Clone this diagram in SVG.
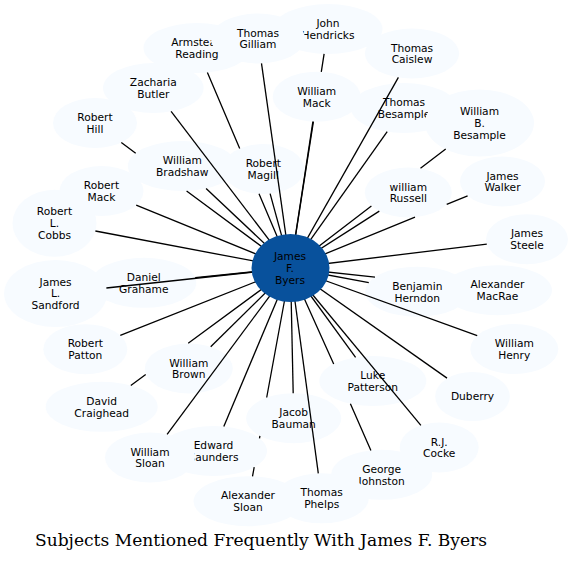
<svg xmlns="http://www.w3.org/2000/svg" width="573" height="563" viewBox="0 0 573 563">
<style>
.n{fill:#f7fbff;stroke:none}
.hub{fill:#08519c;stroke:none}
.t{font-family:"DejaVu Sans","Noto Sans",sans-serif;font-size:10.67px;fill:#000;text-anchor:middle}
.e{fill:none;stroke:#000;stroke-width:1.3}
.title{font-family:"DejaVu Serif","Liberation Serif",serif;font-size:17.1px;fill:#000;text-anchor:middle}
</style>
<rect width="573" height="563" fill="#fff"/>
<g id="nodes">
<g id="armstead-reading"><ellipse class="n" cx="197" cy="48" rx="53.5" ry="25"/><text class="t"><tspan x="197" y="46">Armstead</tspan><tspan x="197" y="57.8">Reading</tspan></text></g>
<g id="john-hendricks"><ellipse class="n" cx="328" cy="29" rx="54.5" ry="25"/><text class="t"><tspan x="328" y="27">John</tspan><tspan x="328" y="38.8">Hendricks</tspan></text></g>
<g id="thomas-gilliam"><ellipse class="n" cx="258" cy="38.5" rx="47" ry="25"/><text class="t"><tspan x="258" y="36.5">Thomas</tspan><tspan x="258" y="48.3">Gilliam</tspan></text></g>
<g id="thomas-caislew"><ellipse class="n" cx="412" cy="53.5" rx="47" ry="25"/><text class="t"><tspan x="412" y="51.5">Thomas</tspan><tspan x="412" y="63.3">Caislew</tspan></text></g>
<g id="william-mack"><ellipse class="n" cx="316.7" cy="96.7" rx="44" ry="25"/><text class="t"><tspan x="316.7" y="94.7">William</tspan><tspan x="316.7" y="106.5">Mack</tspan></text></g>
<g id="thomas-besample"><ellipse class="n" cx="404" cy="108" rx="53" ry="25"/><text class="t"><tspan x="404" y="106">Thomas</tspan><tspan x="404" y="117.8">Besample</tspan></text></g>
<g id="william-b-besample"><ellipse class="n" cx="479.5" cy="123" rx="54.5" ry="33.5"/><text class="t"><tspan x="479.5" y="115.1">William</tspan><tspan x="479.5" y="126.9">B.</tspan><tspan x="479.5" y="138.7">Besample</tspan></text></g>
<g id="zacharia-butler"><ellipse class="n" cx="153.3" cy="88" rx="50.3" ry="25"/><text class="t"><tspan x="153.3" y="86">Zacharia</tspan><tspan x="153.3" y="97.8">Butler</tspan></text></g>
<g id="robert-hill"><ellipse class="n" cx="95" cy="123" rx="42" ry="25"/><text class="t"><tspan x="95" y="121">Robert</tspan><tspan x="95" y="132.8">Hill</tspan></text></g>
<g id="william-bradshaw"><ellipse class="n" cx="182.3" cy="166" rx="54.5" ry="25"/><text class="t"><tspan x="182.3" y="164">William</tspan><tspan x="182.3" y="175.8">Bradshaw</tspan></text></g>
<g id="robert-magill"><ellipse class="n" cx="263.3" cy="169" rx="41" ry="25"/><text class="t"><tspan x="263.3" y="167">Robert</tspan><tspan x="263.3" y="178.8">Magill</tspan></text></g>
<g id="robert-mack"><ellipse class="n" cx="101.5" cy="191" rx="42" ry="25"/><text class="t"><tspan x="101.5" y="189">Robert</tspan><tspan x="101.5" y="200.8">Mack</tspan></text></g>
<g id="robert-l-cobbs"><ellipse class="n" cx="54.5" cy="223.3" rx="42" ry="33.5"/><text class="t"><tspan x="54.5" y="215.4">Robert</tspan><tspan x="54.5" y="227.2">L.</tspan><tspan x="54.5" y="239">Cobbs</tspan></text></g>
<g id="william-russell"><ellipse class="n" cx="408.3" cy="192.5" rx="43.5" ry="25"/><text class="t"><tspan x="408.3" y="190.5">william</tspan><tspan x="408.3" y="202.3">Russell</tspan></text></g>
<g id="james-walker"><ellipse class="n" cx="502.5" cy="181.5" rx="42.5" ry="25"/><text class="t"><tspan x="502.5" y="179.5">James</tspan><tspan x="502.5" y="191.3">Walker</tspan></text></g>
<g id="james-steele"><ellipse class="n" cx="527" cy="239.2" rx="41" ry="25"/><text class="t"><tspan x="527" y="237.2">James</tspan><tspan x="527" y="249">Steele</tspan></text></g>
<g id="james-l-sandford"><ellipse class="n" cx="55.6" cy="293.5" rx="51.5" ry="33.5"/><text class="t"><tspan x="55.6" y="285.6">James</tspan><tspan x="55.6" y="297.4">L.</tspan><tspan x="55.6" y="309.2">Sandford</tspan></text></g>
<g id="daniel-grahame"><ellipse class="n" cx="143.8" cy="282.8" rx="52.5" ry="25"/><text class="t"><tspan x="143.8" y="280.8">Daniel</tspan><tspan x="143.8" y="292.6">Grahame</tspan></text></g>
<g id="robert-patton"><ellipse class="n" cx="85.3" cy="349.2" rx="42" ry="25"/><text class="t"><tspan x="85.3" y="347.2">Robert</tspan><tspan x="85.3" y="359">Patton</tspan></text></g>
<g id="william-brown"><ellipse class="n" cx="188.8" cy="368.5" rx="44" ry="25"/><text class="t"><tspan x="188.8" y="366.5">William</tspan><tspan x="188.8" y="378.3">Brown</tspan></text></g>
<g id="david-craighead"><ellipse class="n" cx="101.7" cy="406.8" rx="56" ry="25"/><text class="t"><tspan x="101.7" y="404.8">David</tspan><tspan x="101.7" y="416.6">Craighead</tspan></text></g>
<g id="edward-saunders"><ellipse class="n" cx="213.5" cy="451" rx="53.5" ry="25"/><text class="t"><tspan x="213.5" y="449">Edward</tspan><tspan x="213.5" y="460.8">Saunders</tspan></text></g>
<g id="william-sloan"><ellipse class="n" cx="150" cy="457.5" rx="45" ry="25"/><text class="t"><tspan x="150" y="455.5">William</tspan><tspan x="150" y="467.3">Sloan</tspan></text></g>
<g id="jacob-bauman"><ellipse class="n" cx="293.7" cy="418.2" rx="47.5" ry="25"/><text class="t"><tspan x="293.7" y="416.2">Jacob</tspan><tspan x="293.7" y="428">Bauman</tspan></text></g>
<g id="george-johnston"><ellipse class="n" cx="381.7" cy="474.8" rx="50.5" ry="25"/><text class="t"><tspan x="381.7" y="472.8">George</tspan><tspan x="381.7" y="484.6">Johnston</tspan></text></g>
<g id="thomas-phelps"><ellipse class="n" cx="321.7" cy="498.3" rx="47" ry="25"/><text class="t"><tspan x="321.7" y="496.3">Thomas</tspan><tspan x="321.7" y="508.1">Phelps</tspan></text></g>
<g id="alexander-sloan"><ellipse class="n" cx="248" cy="501.2" rx="54.5" ry="25"/><text class="t"><tspan x="248" y="499.2">Alexander</tspan><tspan x="248" y="511">Sloan</tspan></text></g>
<g id="luke-patterson"><ellipse class="n" cx="372.8" cy="381" rx="53.5" ry="25"/><text class="t"><tspan x="372.8" y="379">Luke</tspan><tspan x="372.8" y="390.8">Patterson</tspan></text></g>
<g id="rj-cocke"><ellipse class="n" cx="439.2" cy="447.5" rx="39.5" ry="25"/><text class="t"><tspan x="439.2" y="445.5">R.J.</tspan><tspan x="439.2" y="457.3">Cocke</tspan></text></g>
<g id="duberry"><ellipse class="n" cx="472.5" cy="396.5" rx="37.3" ry="24.5"/><text class="t" x="472.5" y="399.8">Duberry</text></g>
<g id="william-henry"><ellipse class="n" cx="514.3" cy="349" rx="44" ry="25"/><text class="t"><tspan x="514.3" y="347">William</tspan><tspan x="514.3" y="358.8">Henry</tspan></text></g>
<g id="alexander-macrae"><ellipse class="n" cx="497.5" cy="290.2" rx="54.5" ry="25"/><text class="t"><tspan x="497.5" y="288.2">Alexander</tspan><tspan x="497.5" y="300">MacRae</tspan></text></g>
<g id="benjamin-herndon"><ellipse class="n" cx="417.3" cy="291.7" rx="52" ry="25"/><text class="t"><tspan x="417.3" y="289.7">Benjamin</tspan><tspan x="417.3" y="301.5">Herndon</tspan></text></g>
</g>
<g id="connectors" class="e">
<path d="M207.4,72.5L239.7,148.5M259,193.8L290.5,268"/>
<path d="M261.5,63.4L290.5,268"/>
<path d="M324.1,53.9L321.3,71.9M313.4,121.6L290.5,268"/>
<path d="M398.4,77.4L290.5,268"/>
<path d="M312.9,121.6L290.5,268"/>
<path d="M387.2,131.7L290.5,268"/>
<path d="M445.7,149L420.5,168.3M371.4,205.9L290.5,268"/>
<path d="M171.1,111.4L290.5,268"/>
<path d="M121.3,142.5L135.7,153.2M186.6,190.9L290.5,268"/>
<path d="M206.1,188.5L290.5,268"/>
<path d="M270.1,193.7L290.5,268"/>
<path d="M136.2,205.1L290.5,268"/>
<path d="M95.4,231L290.5,268"/>
<path d="M379.3,211.1L290.5,268"/>
<path d="M467.6,195.8L446.7,204.3M415,217.2L290.5,268"/>
<path d="M486.8,244.1L290.5,268"/>
<path d="M195.2,277.6L290.5,268"/>
<path d="M106.4,288L290.5,268"/>
<path d="M120.3,335.4L290.5,268"/>
<path d="M210.7,346.8L290.5,268"/>
<path d="M130.8,385.4L145.7,374.4M188.2,343.2L290.5,268"/>
<path d="M167.1,434.4L290.5,268"/>
<path d="M223.8,426.5L290.5,268"/>
<path d="M252.5,476.3L254.2,467.2M259.5,438.3L259.9,435.8M266.7,397.5L290.5,268"/>
<path d="M293.2,393.2L290.5,268"/>
<path d="M318.3,473.4L290.5,268"/>
<path d="M370.9,450.4L350.4,403.8M333.7,363.9L290.5,268"/>
<path d="M420.9,425.4L290.5,268"/>
<path d="M355.6,357.3L290.5,268"/>
<path d="M447,378.1L290.5,268"/>
<path d="M477.2,335.6L290.5,268"/>
<path d="M368.8,282.6L290.5,268"/>
<path d="M375,277.1L290.5,268"/>
</g>
<g id="james-f-byers"><ellipse class="hub" cx="290.5" cy="268" rx="39" ry="34"/><text class="t"><tspan x="290" y="260.1">James</tspan><tspan x="290" y="271.9">F.</tspan><tspan x="290" y="283.7">Byers</tspan></text></g>
<text class="title" x="261" y="546">Subjects Mentioned Frequently With James F. Byers</text>
</svg>
